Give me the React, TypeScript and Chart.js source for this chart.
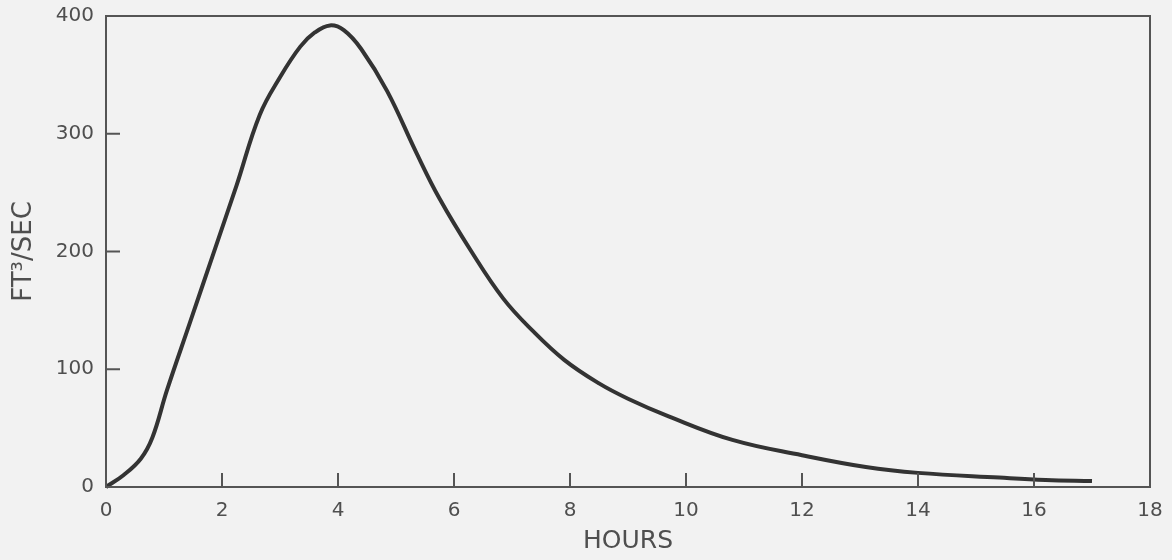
import React, { useEffect, useRef } from "react";
import { Chart, registerables } from "chart.js";

Chart.register(...registerables);

const hours: number[] = [0, 0.3, 0.6, 0.8, 1.05, 1.45, 1.85, 2.25, 2.65, 3.0, 3.35, 3.6, 3.86, 4.1, 4.4, 4.85, 5.35, 5.75, 6.3, 6.85, 7.35, 7.9, 8.5, 9.0, 9.7, 10.8, 12.0, 13.1, 14.0, 15.4, 16.2, 17.0];
const flow: number[] = [0, 10, 24, 42, 82, 140, 198, 256, 316, 348, 374, 386, 392, 388, 372, 336, 284, 245, 200, 160, 133, 108, 88, 75, 60, 40, 27, 17, 12, 8, 6, 5];

const xTicks: number[] = [0, 2, 4, 6, 8, 10, 12, 14, 16, 18];
const yTicks: number[] = [0, 100, 200, 300, 400];
const xTitle = "HOURS";
const yTitle = "FT\u00B3/SEC";

const W = 1172;
const H = 560;
const LEFT = 106;
const RIGHT = 1150;
const TOP = 16;
const BOTTOM = 487;

const FONT = "'DejaVu Sans', sans-serif";
const INK = "#4f4f4f";

const framePlugin = {
  id: "frameTicks",
  afterDatasetsDraw(chart: any) {
    const { ctx, chartArea, scales } = chart;
    const { left, right, top, bottom } = chartArea;
    ctx.save();
    ctx.strokeStyle = "#555";
    ctx.lineWidth = 2;
    ctx.strokeRect(left, top, right - left, bottom - top);
    const len = 14;
    ctx.beginPath();
    xTicks.forEach((v) => {
      if (v === xTicks[0] || v === xTicks[xTicks.length - 1]) return;
      const px = scales.x.getPixelForValue(v);
      ctx.moveTo(px, bottom);
      ctx.lineTo(px, bottom - len);
    });
    yTicks.forEach((v) => {
      if (v === yTicks[0] || v === yTicks[yTicks.length - 1]) return;
      const py = scales.y.getPixelForValue(v);
      ctx.moveTo(left, py);
      ctx.lineTo(left + len, py);
    });
    ctx.stroke();
    ctx.restore();
  },
};

export default function App() {
  const ref = useRef<HTMLCanvasElement | null>(null);

  useEffect(() => {
    document.body.style.margin = "0";
    document.body.style.background = "#f2f2f2";
    const canvas = ref.current;
    if (!canvas) return;
    const chart = new Chart(canvas, {
      type: "line",
      data: {
        datasets: [
          {
            data: hours.map((h, i) => ({ x: h, y: flow[i] })),
            borderColor: "#333",
            borderWidth: 4,
            pointRadius: 0,
            fill: false,
            tension: 0.4,
            clip: false as any,
          },
        ],
      },
      options: {
        responsive: false,
        animation: false,
        devicePixelRatio: 1,
        layout: { padding: { top: TOP, right: W - RIGHT, left: 0, bottom: 0 } },
        plugins: { legend: { display: false }, tooltip: { enabled: false } },
        scales: {
          x: {
            type: "linear",
            min: 0,
            max: 18,
            afterBuildTicks: (s: any) => {
              s.ticks = xTicks.map((v) => ({ value: v }));
            },
            afterFit: (s: any) => {
              s.height = H - BOTTOM;
              s.paddingLeft = 0;
              s.paddingRight = 0;
            },
            grid: { display: false, drawTicks: false },
            border: { display: false },
            ticks: {
              padding: 12,
              color: INK,
              font: { family: FONT, size: 20 },
              maxRotation: 0,
            },
            title: {
              display: true,
              text: xTitle,
              color: INK,
              font: { family: FONT, size: 25 },
              padding: { top: 2, bottom: 4 },
            },
          },
          y: {
            type: "linear",
            min: 0,
            max: 400,
            afterBuildTicks: (s: any) => {
              s.ticks = yTicks.map((v) => ({ value: v }));
            },
            afterFit: (s: any) => {
              s.width = LEFT;
              s.paddingTop = 0;
              s.paddingBottom = 0;
            },
            grid: { display: false, drawTicks: false },
            border: { display: false },
            ticks: {
              padding: 12,
              color: INK,
              font: { family: FONT, size: 20 },
            },
            title: {
              display: true,
              text: yTitle,
              color: INK,
              font: { family: FONT, size: 26 },
              padding: { top: 9, bottom: 4 },
            },
          },
        },
      },
      plugins: [framePlugin],
    });
    return () => chart.destroy();
  }, []);

  return (
    <div style={{ width: W, height: H, background: "#f2f2f2" }}>
      <canvas ref={ref} width={W} height={H} style={{ display: "block" }} />
    </div>
  );
}
